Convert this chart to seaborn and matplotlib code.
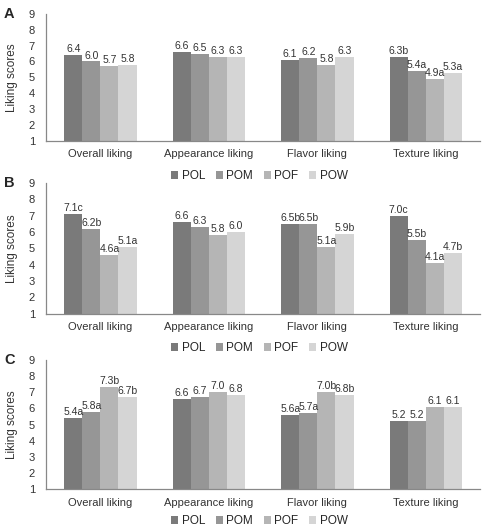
import matplotlib
matplotlib.use("Agg")
import matplotlib.pyplot as plt
import seaborn as sns
import pandas as pd

categories = ["Overall liking", "Appearance liking", "Flavor liking", "Texture liking"]
samples = ["POL", "POM", "POF", "POW"]

# values per panel, one list per category (POL, POM, POF, POW)
a_values = [[6.4, 6.0, 5.7, 5.8], [6.6, 6.5, 6.3, 6.3], [6.1, 6.2, 5.8, 6.3], [6.3, 5.4, 4.9, 5.3]]
a_letters = [["", "", "", ""], ["", "", "", ""], ["", "", "", ""], ["b", "a", "a", "a"]]
b_values = [[7.1, 6.2, 4.6, 5.1], [6.6, 6.3, 5.8, 6.0], [6.5, 6.5, 5.1, 5.9], [7.0, 5.5, 4.1, 4.7]]
b_letters = [["c", "b", "a", "a"], ["", "", "", ""], ["b", "b", "a", "b"], ["c", "b", "a", "b"]]
c_values = [[5.4, 5.8, 7.3, 6.7], [6.6, 6.7, 7.0, 6.8], [5.6, 5.7, 7.0, 6.8], [5.2, 5.2, 6.1, 6.1]]
c_letters = [["a", "a", "b", "b"], ["", "", "", ""], ["a", "a", "b", "b"], ["", "", "", ""]]

colors = ["#7a7a7a", "#969696", "#b5b5b5", "#d5d5d5"]

sns.set_style("white")
plt.rcParams["font.family"] = ["Liberation Sans", "DejaVu Sans"]

fig = plt.figure(figsize=(4.85, 5.3), dpi=100)

panels = [
    ("A", a_values, a_letters, [0.095, 0.734, 0.895, 0.240], 0.668),
    ("B", b_values, b_letters, [0.095, 0.408, 0.895, 0.247], 0.343),
    ("C", c_values, c_letters, [0.095, 0.077, 0.895, 0.244], 0.017),
]

for letter, values, letters, pos, leg_y in panels:
    rows = []
    for ci, cat in enumerate(categories):
        for si, s in enumerate(samples):
            rows.append({"category": cat, "sample": s, "score": values[ci][si]})
    df = pd.DataFrame(rows)

    ax = fig.add_axes(pos)
    sns.barplot(data=df, x="category", y="score", hue="sample", order=categories,
                hue_order=samples, palette=colors, width=0.667, gap=0,
                edgecolor="none", linewidth=0, ax=ax, legend=True)
    # bars start at 1
    for cont in ax.containers:
        for p in cont.patches:
            h = p.get_height()
            p.set_y(1)
            p.set_height(h - 1)
    for si, cont in enumerate(ax.containers):
        labs = [f"{values[ci][si]:.1f}{letters[ci][si]}" for ci in range(len(categories))]
        for p, lab in zip(cont.patches, labs):
            ax.text(p.get_x() + p.get_width() / 2, p.get_y() + p.get_height() + 0.06, lab,
                    ha="center", va="bottom", fontsize=7.5, color="#333333")

    ax.set_ylim(1, 9)
    ax.set_yticks(range(1, 10))
    ax.set_xlim(-0.5, 3.5)
    ax.set_xlabel("")
    ax.set_ylabel("Liking scores", fontsize=8.5, color="#333333", labelpad=8)
    ax.tick_params(axis="both", length=0, labelsize=8, colors="#333333")
    ax.tick_params(axis="y", pad=8)
    ax.tick_params(axis="x", pad=6)
    for side in ["top", "right"]:
        ax.spines[side].set_visible(False)
    for side in ["left", "bottom"]:
        ax.spines[side].set_color("#888888")
        ax.spines[side].set_linewidth(0.9)

    handles, labels = ax.get_legend_handles_labels()
    ax.get_legend().remove()
    fig.legend(handles, labels, loc="center", bbox_to_anchor=(0.535, leg_y), ncol=4,
               frameon=False, fontsize=8.5, handlelength=0.6, handleheight=0.6,
               handletextpad=0.3, columnspacing=0.9, borderpad=0)
    fig.text(0.008, pos[1] + pos[3], letter, fontsize=10.5, fontweight="bold", va="center")

fig.savefig("out.png", dpi=100)
